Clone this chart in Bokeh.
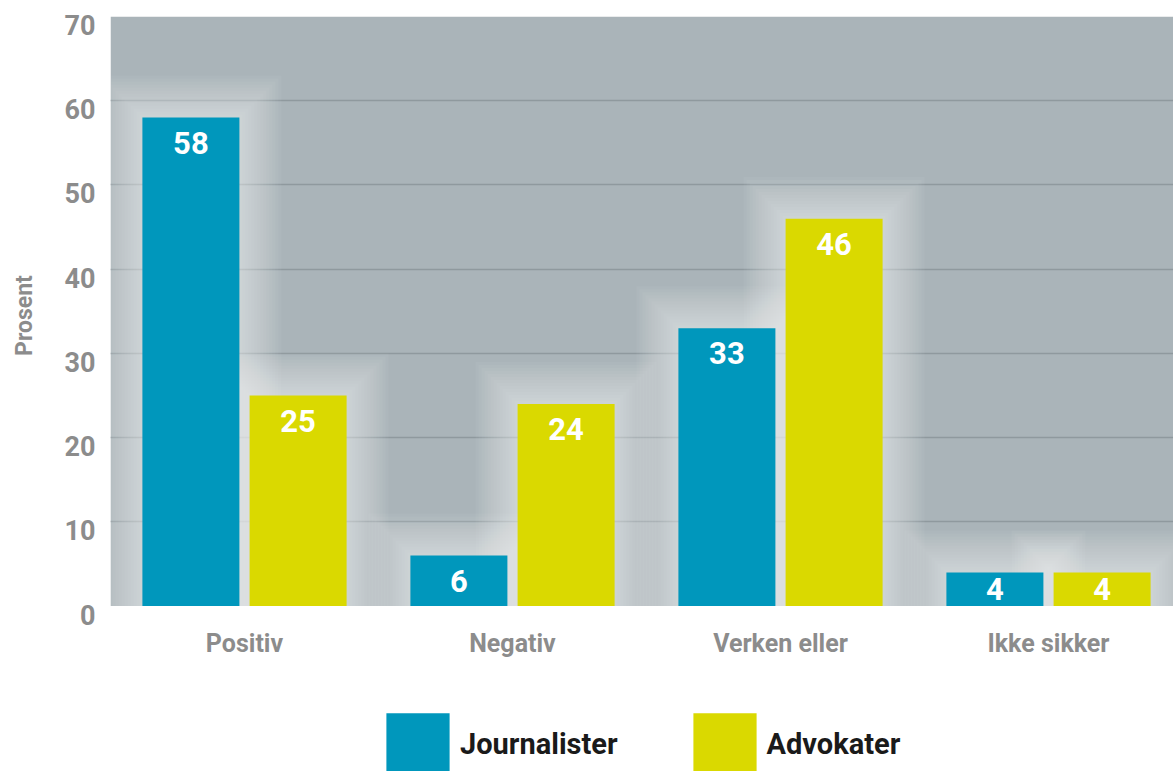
from bokeh.plotting import figure
from bokeh.layouts import column
from bokeh.models import Range1d, FixedTicker, Legend, LegendItem, ColumnDataSource, LinearAxis
from bokeh.core.properties import value
from bokeh.embed import file_html
from bokeh.resources import INLINE

categories = ["Positiv", "Negativ", "Verken eller", "Ikke sikker"]
journalister = [58, 6, 33, 4]
advokater = [25, 24, 46, 4]
series_names = ["Journalister", "Advokater"]
y_ticks = [0, 10, 20, 30, 40, 50, 60, 70]
y_label = "Prosent"

FONT = "Roboto"
BLUE = "#0097bc"
YELLOW = "#dad900"
GRAY_TXT = "#8c8c8c"
BG = "#aab4b9"

W = 1173
LEFT, TOP = 110, 16
PX_PER_CAT = 268.0
X_END = (W - LEFT) / PX_PER_CAT
BAR_W = 97 / PX_PER_CAT
OFFSET = 0.2
SHIFT = 1.0            # tick labels sit a little below their gridline
Y_MAX = 70
PX_PER_Y = 590 / 70.0
FRAME_H = int(round((Y_MAX + SHIFT) * PX_PER_Y))
MAIN_H = 700
LABEL_DROP = 3.0

centers = [i + 0.5 for i in range(len(categories))]
xj = [c - OFFSET for c in centers]
xa = [c + OFFSET for c in centers]

p = figure(width=W, height=MAIN_H,
           x_range=Range1d(0, X_END), y_range=Range1d(-SHIFT, Y_MAX),
           output_backend="svg", toolbar_location=None,
           min_border_left=LEFT, min_border_top=TOP, min_border_right=0,
           min_border_bottom=MAIN_H - TOP - FRAME_H,
           background_fill_color="white", border_fill_color="white", outline_line_color=None)
p.extra_y_ranges = {"lab": Range1d(0, Y_MAX + SHIFT)}

# gray plotting area from 0 to 70
p.quad(left=0, right=X_END, bottom=0, top=Y_MAX, fill_color=BG, line_color=None, level="image")

# soft glow behind bars
ypx = 1.0 / PX_PER_Y
for e in range(3, 45, 3):
    for xs, vals in ((xj, journalister), (xa, advokater)):
        src = ColumnDataSource(dict(x=xs, top=[v + e * ypx for v in vals]))
        p.vbar(x="x", top="top", bottom=0, width=BAR_W + 2 * e / PX_PER_CAT, source=src,
               fill_color="white", fill_alpha=0.045, line_color=None)

def label_y(vals):
    return [max(v - LABEL_DROP, v / 2.0) for v in vals]

src_j = ColumnDataSource(dict(x=xj, top=journalister, ly=label_y(journalister),
                              label=[str(v) for v in journalister]))
src_a = ColumnDataSource(dict(x=xa, top=advokater, ly=label_y(advokater),
                              label=[str(v) for v in advokater]))
rj = p.vbar(x="x", top="top", bottom=0, width=BAR_W, source=src_j, fill_color=BLUE, line_color=None)
ra = p.vbar(x="x", top="top", bottom=0, width=BAR_W, source=src_a, fill_color=YELLOW, line_color=None)

for src in (src_j, src_a):
    p.text(x="x", y="ly", text="label", source=src, text_align="center", text_baseline="middle",
           text_color="white", text_font=value(FONT), text_font_style="bold",
           text_font_size="31px")

# grid
p.xgrid.grid_line_color = None
p.ygrid.ticker = FixedTicker(ticks=y_ticks[1:-1])
p.ygrid.grid_line_color = "#8f999e"
p.ygrid.grid_line_width = 1.5

# x axis
xax = p.xaxis[0]
xax.ticker = FixedTicker(ticks=centers)
xax.major_label_overrides = {c: name for c, name in zip(centers, categories)}
xax.axis_line_color = None
xax.major_tick_line_color = None
xax.minor_tick_line_color = None
xax.major_label_text_font = FONT
xax.major_label_text_font_style = "bold"
xax.major_label_text_font_size = "25px"
xax.major_label_text_color = GRAY_TXT
xax.major_label_standoff = 8

# y axis on shifted range
p.yaxis.visible = False
yax = LinearAxis(y_range_name="lab", ticker=FixedTicker(ticks=y_ticks))
yax.axis_line_color = None
yax.major_tick_line_color = None
yax.minor_tick_line_color = None
yax.major_label_text_font = FONT
yax.major_label_text_font_style = "bold"
yax.major_label_text_font_size = "27px"
yax.major_label_text_color = GRAY_TXT
yax.major_label_standoff = 9
yax.axis_label = y_label
yax.axis_label_text_font = FONT
yax.axis_label_text_font_style = "bold"
yax.axis_label_text_font_size = "23px"
yax.axis_label_text_color = GRAY_TXT
yax.axis_label_standoff = 24
p.add_layout(yax, "left")

# legend strip (its frame is aligned with the chart frame by the column layout)
LEG_H = 771 - MAIN_H
lf = figure(width=W, height=LEG_H, x_range=Range1d(0, X_END), y_range=Range1d(0, 1),
            output_backend="svg", toolbar_location=None, min_border=0,
            x_axis_location=None, y_axis_location=None, outline_line_color=None,
            background_fill_color="white", border_fill_color="white")
lf.grid.visible = False
lj = lf.vbar(x="x", top="top", width=BAR_W, source=src_j, fill_color=BLUE, line_color=None, visible=False)
la = lf.vbar(x="x", top="top", width=BAR_W, source=src_a, fill_color=YELLOW, line_color=None, visible=False)
legend = Legend(items=[LegendItem(label=series_names[0], renderers=[lj]),
                       LegendItem(label=series_names[1], renderers=[la])],
                location=(268, -12), orientation="horizontal",
                glyph_width=79, glyph_height=78, label_standoff=3, spacing=67,
                padding=0, margin=0, border_line_color=None, background_fill_alpha=0,
                label_text_font=FONT, label_text_font_style="bold", label_text_font_size="29px",
                label_text_color="#1a1a1a", click_policy="none")
lf.add_layout(legend, "center")

layout = column(p, lf, spacing=0)
open("out.html", "w").write(file_html(layout, INLINE))
